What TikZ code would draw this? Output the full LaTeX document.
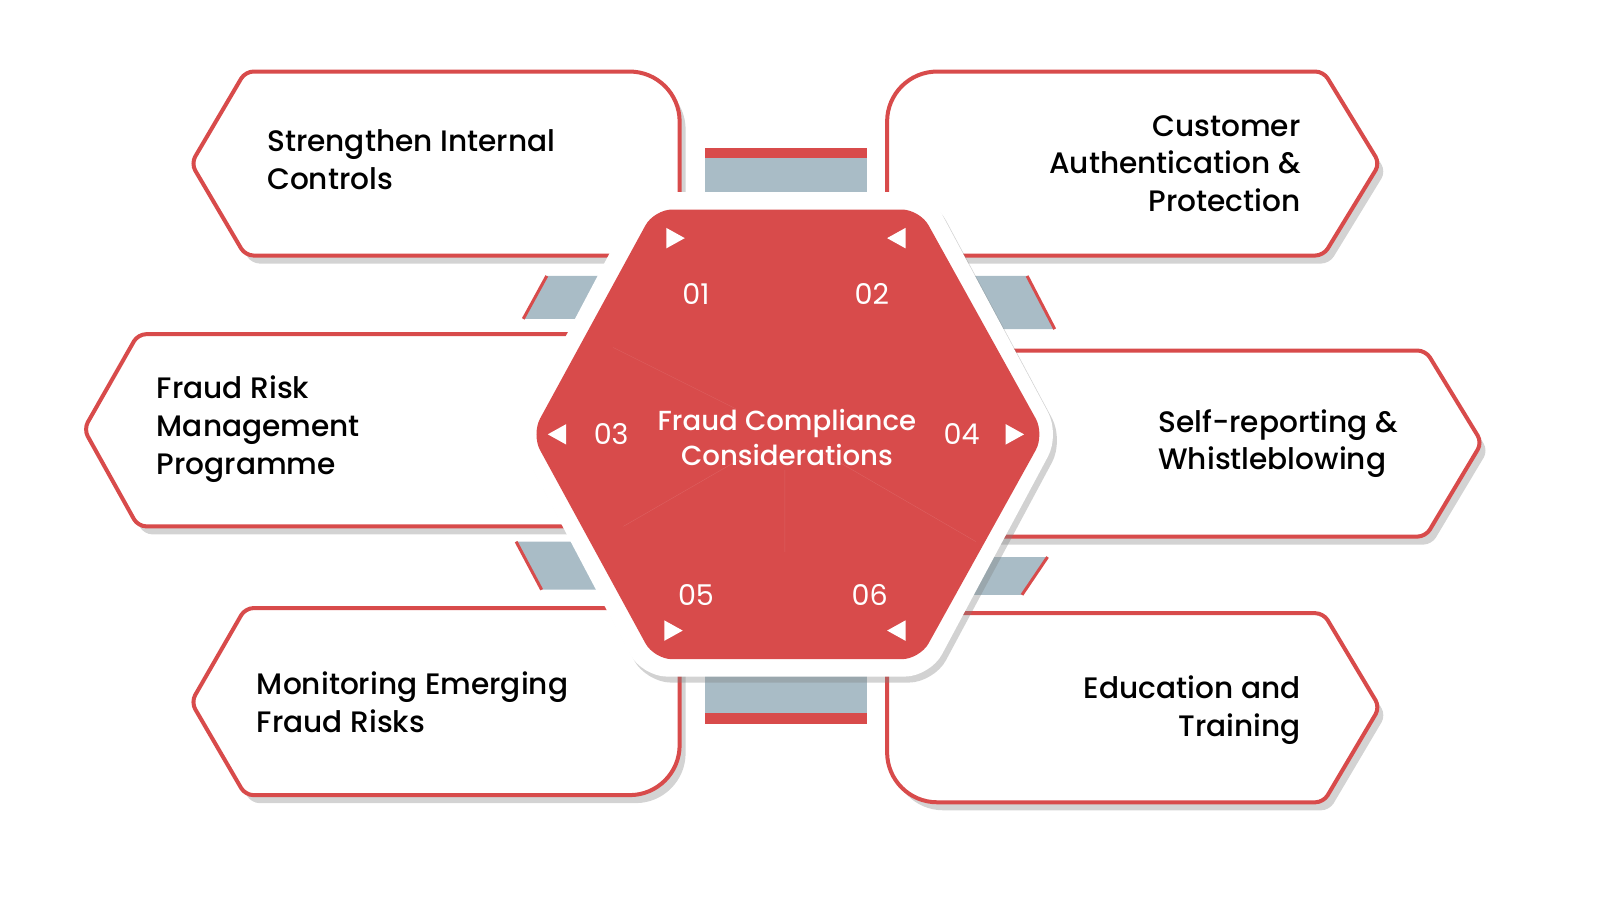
\documentclass[tikz,border=0pt]{standalone}
\usepackage{fontspec}
\setmainfont{Poppins}[BoldFont={Poppins Medium}]
\usetikzlibrary{shadows}
\definecolor{rd}{HTML}{D84B4B}
\definecolor{gb}{HTML}{A9BCC6}
\tikzset{
 boxst/.style={draw=rd,line width=4pt,fill=white,drop shadow={opacity=0.35,shadow xshift=6pt,shadow yshift=-8pt}},
 lbl/.style={font=\fontsize{29.6}{37.8}\selectfont\bfseries,text=black},
 num/.style={font=\fontsize{28.6}{30}\selectfont,text=white},
 tri/.style={fill=white,draw=none}
}
\begin{document}
\begin{tikzpicture}[x=1pt,y=-1pt]
\begin{scope}[x=1.022pt,y=-1.022pt]
% connectors
\fill[gb] (690,148) rectangle (848,195);
\fill[rd] (690,145) rectangle (848,155);
\fill[gb] (690,660) rectangle (848,705);
\fill[rd] (690,698) rectangle (848,708);
\fill[gb] (535,270) -- (600,270) -- (575,312) -- (512,312) -- cycle;
\draw[rd,line width=3pt] (512,312) -- (535,270);
\fill[gb] (505,530) -- (570,530) -- (595,577) -- (530,577) -- cycle;
\draw[rd,line width=3pt] (505,530) -- (530,577);
\fill[gb] (940,270) -- (1005,270) -- (1032,322) -- (965,322) -- cycle;
\draw[rd,line width=3pt] (1005,270) -- (1032,322);
\fill[gb] (950,545) -- (1025,545) -- (1000,582) -- (930,582) -- cycle;
\draw[rd,line width=3pt] (1025,545) -- (1000,582);
% boxes
\draw[boxst,rounded corners=8] (187,160) -- (240,70) -- (610,70) [rounded corners=50] -- (665,70) -- (665,250) [rounded corners=8] -- (665,250) -- (240,250) -- cycle;
\draw[boxst,rounded corners=8] (1350,160) -- (1295,70) -- (930,70) [rounded corners=50] -- (868,70) -- (868,250) [rounded corners=8] -- (868,250) -- (1295,250) -- cycle;
\draw[boxst,rounded corners=8] (82,420) -- (135,327) -- (600,327) -- (600,515) -- (135,515) -- cycle;
\draw[boxst,rounded corners=8] (1450,433) -- (1395,343) -- (950,343) -- (950,525) -- (1395,525) -- cycle;
\draw[boxst,rounded corners=8] (187,687) -- (240,595) -- (665,595) [rounded corners=50] -- (665,778) [rounded corners=8] -- (240,778) -- cycle;
\draw[boxst,rounded corners=8] (1350,692) -- (1295,600) -- (868,600) [rounded corners=50] -- (868,785) [rounded corners=8] -- (1295,785) -- cycle;
% hexagon
\fill[white,rounded corners=25,drop shadow={opacity=0.35,shadow xshift=4pt,shadow yshift=-6pt}] (503,425) -- (628,188) -- (910,188) -- (1037,425) -- (910,662) -- (628,662) -- cycle;
\fill[rd,rounded corners=18] (520,425) -- (640,205) -- (900,205) -- (1022,425) -- (900,645) -- (640,645) -- cycle;
\draw[white,opacity=0.12] (768,460) -- (768,540) (740,440) -- (610,515) (800,440) -- (955,530) (720,400) -- (600,340);
% triangles
\fill[tri] (652,223) -- (670,233) -- (652,243) -- cycle;
\fill[tri] (886,223) -- (868,233) -- (886,243) -- cycle;
\fill[tri] (554,415) -- (536,425) -- (554,435) -- cycle;
\fill[tri] (984,415) -- (1002,425) -- (984,435) -- cycle;
\fill[tri] (650,607) -- (668,617) -- (650,627) -- cycle;
\fill[tri] (886,607) -- (868,617) -- (886,627) -- cycle;
% numbers
\node[num] (n1) at (681,288) {01};
\node[num] (n2) at (853,288) {02};
\node[num] (n3) at (598,425) {03};
\node[num] (n4) at (941,425) {04};
\node[num] (n5) at (681,582) {05};
\node[num] (n6) at (851,582) {06};
\node[font=\fontsize{27.6}{35.8}\selectfont\bfseries,text=white,align=center] (c) at (770,428) {Fraud Compliance\\Considerations};
% labels
\node[lbl,align=left,anchor=west] (t1) at (258,156) {Strengthen Internal\\Controls};
\node[lbl,align=right,anchor=east] (t2) at (1276,160) {Customer\\Authentication \&\\Protection};
\node[lbl,align=left,anchor=west] (t3) at (150,420) {Fraud Risk\\Management\\Programme};
\node[lbl,align=left,anchor=west] (t4) at (1130,434) {Self-reporting \&\\Whistleblowing};
\node[lbl,align=left,anchor=west] (t5) at (248,687) {Monitoring Emerging\\Fraud Risks};
\node[lbl,align=right,anchor=east] (t6) at (1276,695) {Education and\\Training};
\end{scope}
\pgfresetboundingbox
\useasboundingbox (0,0) rectangle (1600,900);
\end{tikzpicture}
\end{document}
